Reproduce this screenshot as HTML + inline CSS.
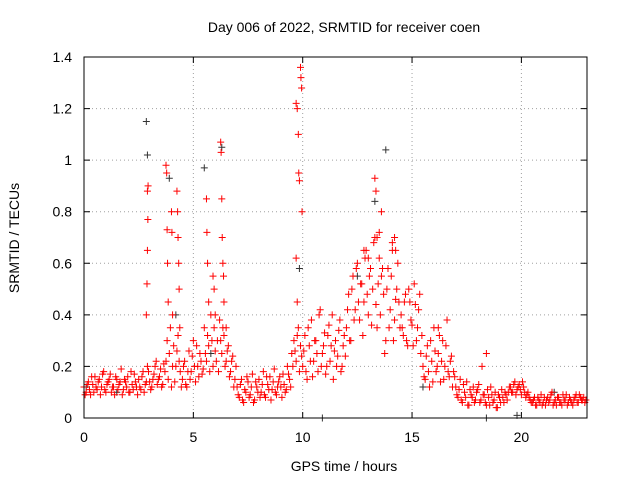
<!DOCTYPE html>
<html><head><meta charset="utf-8"><style>
html,body{margin:0;padding:0;background:#fff}
svg text{font-family:"Liberation Sans",sans-serif;font-size:14px;fill:#000}
</style></head><body>
<svg id="chart" width="640" height="480" xmlns="http://www.w3.org/2000/svg">
<rect width="640" height="480" fill="#fff"/>
<text x="344" y="32" text-anchor="middle">Day 006 of 2022, SRMTID for receiver coen</text>
<text x="344" y="471" text-anchor="middle">GPS time / hours</text>
<text x="19" y="238" text-anchor="middle" transform="rotate(-90 19 238)">SRMTID / TECUs</text>
<g id="grid"></g><g id="marks"></g><g id="axes"></g>
</svg>
<script>
const xTicks=[0,5,10,15,20];
const yTicks=[0,0.2,0.4,0.6,0.8,1,1.2,1.4];
const yTickLabels=["0","0.2","0.4","0.6","0.8","1","1.2","1.4"];
const redA=[.12,.10,.14,.09,.13,.16,.11,.15,.12,.18,.10,.14,.17,.12,.09,.15,.13,.19,.11,.14,.16,.10,.13,.17,.12,
.15,.11,.18,.13,.20,.14,.12,.17,.22,.15,.19,.13,
.18,.30,.25,.12,.28,.20,.32,.18,
.15,.22,.12,.26,.18,.30,.14,.20,.25,.17,
.35,.22,.28,.40,.20,.26,.30,
.38,.25,.32,.22,.28,.18,.24,.15,
.12,.08,.15,.06,.10,.14,.09,.17,.07,.12,.15,.10,.18,.08,.13,.16,.11,.19,.09,.14,.12,.17,.10,.20,.15,
.25,.30,.22,.35,.28,
.20,.32,.15,.28,.38,.22,.30,.18,.42,.25,.33,.20,.36,.28,.15,.30,.24,.38,.20,.32,
.35,.48,.30,.55,.42,.60,.38,.52,.45,.65,.40,.58,.50,.70,.35,.62,.55,.48,.30,.58,.42,.65,.38,.50,.45,
.40,.32,.48,.28,.45,.36,.52,.30,.42,.25,
.20,.15,.28,.12,.22,.35,.18,.25,.14,.30,.20,.38,.16,.24,.18,
.12,.08,.15,.06,.10,.14,.05,.09,.12,.07,.11,.06,.20,.09,.05,.08,.12,.06,.10,.04,.08,.11,.06,.09,.10,
.12,.10,.14,.11,.13,.09,.12,.08,.10,.07,
.06,.08,.05,.07,.09,.06,.05,.08,.07,.10,.06,.05,.08,.06,.09,.07,.05,.08,.06,.07,.09,.06,.08,.07,.06];
const redB=[.09,.13,.11,.16,.10,.12,.14,.09,.17,.11,.13,.15,.10,.12,.16,.11,.14,.09,.15,.12,.10,.18,.11,.14,.09,
.12,.16,.10,.14,.18,.11,.15,.20,.13,.16,.12,.21,
.22,.15,.35,.20,.14,.26,.22,.12,
.20,.13,.18,.15,.24,.20,.28,.16,.22,.19,
.25,.32,.18,.30,.35,.22,.18,
.30,.35,.20,.26,.16,.22,.12,.20,
.09,.13,.07,.11,.16,.08,.12,.06,.14,.10,.08,.13,.09,.16,.11,.07,.14,.10,.12,.16,.08,.13,.11,.17,.12,
.20,.26,.32,.18,.24,
.26,.18,.35,.22,.16,.30,.25,.40,.20,.28,.17,.32,.22,.40,.26,.20,.34,.18,.28,.24,
.42,.30,.50,.38,.58,.45,.52,.32,.62,.48,.55,.36,.68,.44,.52,.40,.58,.25,.50,.35,.55,.30,.46,.60,.35,
.35,.45,.30,.50,.38,.28,.44,.35,.48,.32,
.16,.24,.18,.30,.14,.26,.20,.32,.22,.15,.28,.18,.22,.12,.16,
.09,.11,.07,.13,.08,.05,.11,.08,.06,.10,.13,.07,.09,.06,.11,.05,.09,.07,.04,.09,.06,.08,.10,.07,.12,
.10,.13,.09,.12,.11,.14,.10,.09,.08,.06,
.07,.05,.08,.06,.05,.08,.07,.06,.09,.05,.07,.08,.06,.05,.07,.09,.06,.07,.05,.08,.06,.09,.07,.08,.07];
const spikeT=[2.85,2.88,2.9,2.92,2.9,2.93,3.75,3.78,3.8,3.82,3.85,4.0,4.02,4.05,4.25,4.28,4.3,4.33,4.35,4.38,5.6,5.62,5.65,5.7,5.9,5.95,6.0,6.25,6.27,6.3,6.32,6.35,6.38,6.4,6.5,9.7,9.75,9.8,9.82,9.85,9.9,9.92,9.95,9.97,9.7,9.75,13.3,13.35,13.6,13.5,13.4,14.2,14.25,14.1,13.0,12.8,18.4,16.2];
const spikeV=[.40,.52,.65,.77,.88,.90,.98,.95,.73,.60,.45,.80,.72,.40,.88,.80,.70,.60,.50,.35,.85,.72,.60,.45,.55,.50,.40,1.07,1.03,.85,.70,.60,.55,.45,.35,1.22,1.20,1.10,.95,.92,1.36,1.32,1.28,.80,.62,.45,.93,.88,.80,.72,.70,.70,.65,.68,.62,.65,.25,.35];
const blackT=[2.85,2.9,5.5,13.8,13.3,9.85,4.2,10.9,18.4,19.8,0.1,1.5,12.5,5.8,15.5,21.5,6.3,3.9];
const blackV=[1.15,1.02,.97,1.04,.84,.58,.40,0.0,0.0,.01,.12,.10,.55,.25,.12,.10,1.05,.93];

const X0=84,X1=587,Y0=418,Y1=57,XMAX=23,YMAX=1.4;
const xs=t=>X0+(X1-X0)*t/XMAX, ys=v=>Y0-(Y0-Y1)*v/YMAX;
const NS="http://www.w3.org/2000/svg";
function mk(tag,attrs,parent){const e=document.createElementNS(NS,tag);for(const k in attrs)e.setAttribute(k,attrs[k]);parent.appendChild(e);return e;}
const grid=document.getElementById('grid'),marks=document.getElementById('marks'),axes=document.getElementById('axes');
xTicks.forEach((t,i)=>{const x=xs(t);
 if(t>0){const g=mk('line',{x1:x,x2:x,y1:Y0,y2:Y1,stroke:'#a0a0a0','stroke-dasharray':'1,3'},grid);
 
 }
 const tk=mk('path',{d:`M${x},${Y0}v-6M${x},${Y1}v6`,stroke:'#000'},axes);
 
 
 const l=mk('text',{x:x,y:Y0+24,'text-anchor':'middle'},axes);l.textContent=String(t);
 
 
});
yTicks.forEach((v,i)=>{const y=ys(v);
 if(v>0&&v<YMAX){const g=mk('line',{x1:X0,x2:X1,y1:y,y2:y,stroke:'#a0a0a0','stroke-dasharray':'1,3'},grid);
 
 }
 const tk=mk('path',{d:`M${X0},${y}h6M${X1},${y}h-6`,stroke:'#000'},axes);
 
 
 const l=mk('text',{x:X0-12,y:y+5,'text-anchor':'end'},axes);l.textContent=yTickLabels[i];
 
 
});
const frame=mk('rect',{x:X0,y:Y1,width:X1-X0,height:Y0-Y1,fill:'none',stroke:'#000'},axes);


function plus(t,v,col,name){const x=xs(t),y=ys(v);
 const p=mk('path',{d:`M${x-3.5},${y}h7M${x},${y-3.5}v7`,stroke:col,'stroke-width':1},marks);
 
 }
blackT.forEach((t,i)=>plus(t,blackV[i],'#333','black-point'));
redA.forEach((v,i)=>plus(i*0.1,v,'#f00','red-point'));
redB.forEach((v,i)=>plus(i*0.1+0.05,v,'#f00','red-point'));
spikeT.forEach((t,i)=>plus(t,spikeV[i],'#f00','red-point'));
</script>
</body></html>
